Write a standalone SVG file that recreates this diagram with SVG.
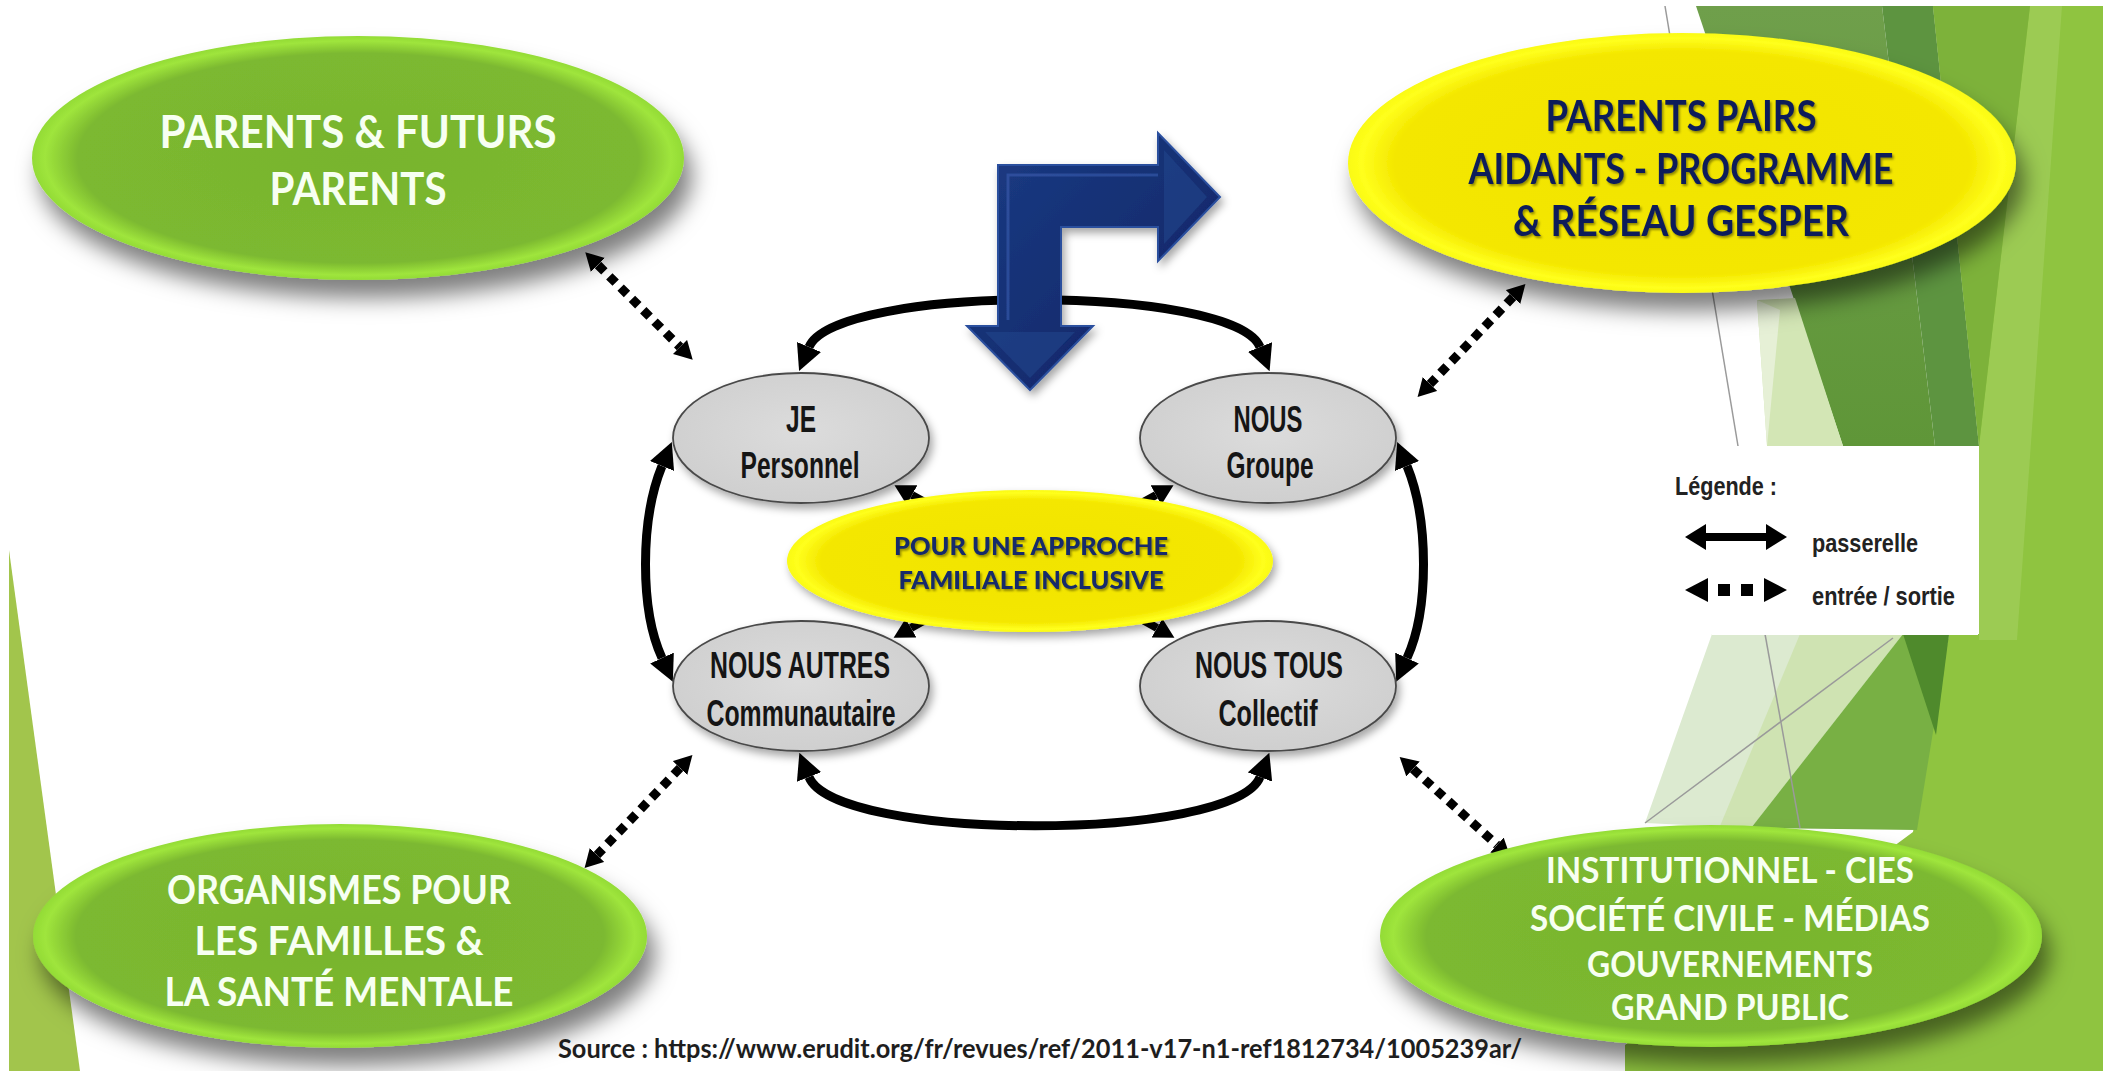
<svg xmlns="http://www.w3.org/2000/svg" width="2103" height="1071" viewBox="0 0 2103 1071">
<defs>
<style>
.big{font-family:Lato,"Liberation Sans",sans-serif;font-weight:700;text-anchor:middle}
.wt{fill:#f7fff2}
.nv{fill:#0e1e5a}
.gt{font-family:"Liberation Sans",Arial,sans-serif;font-weight:700;text-anchor:middle;fill:#151515;font-size:36px}
.ct{font-family:Lato,"Liberation Sans",sans-serif;font-weight:900;text-anchor:middle;fill:#142a6a;font-size:25px}
.lg{font-family:"Liberation Sans",Arial,sans-serif;font-weight:700;fill:#222;font-size:25px}
.ring{fill:none;stroke:#000;stroke-width:9}
.dot{fill:none;stroke:#000;stroke-width:9;stroke-dasharray:9 7}
.short{fill:none;stroke:#000;stroke-width:8}
.gray{fill:url(#gGray);stroke:#4a4a4a;stroke-width:1.8}
.bgl{stroke:#9a9a9a;stroke-width:1.5;fill:none}
</style>
<radialGradient id="gGreen" cx="50%" cy="50%" r="50%">
<stop offset="0" stop-color="#78b42e"/>
<stop offset="0.86" stop-color="#7cb930"/>
<stop offset="0.96" stop-color="#9fe53c"/>
<stop offset="1" stop-color="#93db36"/>
</radialGradient>
<radialGradient id="gYellow" cx="50%" cy="50%" r="50%">
<stop offset="0" stop-color="#f1e400"/>
<stop offset="0.86" stop-color="#f4e700"/>
<stop offset="0.96" stop-color="#ffff1c"/>
<stop offset="1" stop-color="#fafa12"/>
</radialGradient>
<radialGradient id="gGray" cx="50%" cy="45%" r="55%">
<stop offset="0" stop-color="#dcdcdc"/>
<stop offset="1" stop-color="#cfcfcf"/>
</radialGradient>
<linearGradient id="gOlive" x1="0" y1="0" x2="0" y2="1">
<stop offset="0" stop-color="#6f9f4b"/>
<stop offset="1" stop-color="#5f9638"/>
</linearGradient>
<linearGradient id="gBlue" x1="0" y1="0" x2="1" y2="1">
<stop offset="0" stop-color="#1d3c85"/>
<stop offset="1" stop-color="#0b2261"/>
</linearGradient>
<filter id="sh" x="-20%" y="-20%" width="150%" height="180%">
<feDropShadow dx="8" dy="18" stdDeviation="11" flood-color="#000" flood-opacity="0.5"/>
</filter>
<filter id="shs" x="-20%" y="-20%" width="150%" height="170%">
<feDropShadow dx="3" dy="5" stdDeviation="4" flood-color="#000" flood-opacity="0.35"/>
</filter>
<filter id="tsh" x="-5%" y="-20%" width="110%" height="160%">
<feDropShadow dx="1.5" dy="2" stdDeviation="1.2" flood-color="#000" flood-opacity="0.4"/>
</filter>
<marker id="ah" viewBox="0 0 26 26" refX="0" refY="13" markerWidth="26" markerHeight="26" markerUnits="userSpaceOnUse" orient="auto-start-reverse">
<path d="M0,0 L26,13 L0,26 z" fill="#000"/>
</marker>
<marker id="sah" viewBox="0 0 20 22" refX="0" refY="11" markerWidth="20" markerHeight="22" markerUnits="userSpaceOnUse" orient="auto-start-reverse">
<path d="M0,0 L20,11 L0,22 z" fill="#000"/>
</marker>
<marker id="dh" viewBox="0 0 18 20" refX="0" refY="10" markerWidth="18" markerHeight="20" markerUnits="userSpaceOnUse" orient="auto-start-reverse">
<path d="M0,0 L18,10 L0,20 z" fill="#000"/>
</marker>
</defs>

<g id="background">
<rect width="2103" height="1071" fill="#fff"/>
<polygon points="9,550 9,1071 80,1071" fill="#a2c54c"/>
<polygon points="1933,6 2103,6 2103,1071 1625,1071 1625,1045 1913,832 1949,634 1979,634 1979,446" fill="#8fc440"/>
<polygon points="2030,6 2062,6 2017,640 1979,640 1979,446" fill="#a0cd5a" opacity="0.75"/>
<polygon points="1696,6 1882,6 1935,446 1843,446" fill="url(#gOlive)"/>
<polygon points="1882,6 1933,6 1979,446 1935,446" fill="#5d9440"/>
<polygon points="1933,6 2030,6 1979,446" fill="#7db23a"/>
<polygon points="1757,300 1795,298 1843,446 1767,446" fill="#d3e6b5"/>
<polygon points="1757,300 1780,310 1767,446" fill="#e6f0d6"/>
<polygon points="1712,634 1903,634 1751,828 1645,823" fill="#dcead0"/>
<polygon points="1800,634 1903,634 1751,828 1720,826" fill="#cfe3b2"/>
<polygon points="1903,634 1949,634 1917,830 1751,828" fill="#78b044"/>
<polygon points="1903,634 1949,634 1936,735" fill="#4f8a2c"/>
<line class="bgl" x1="1665" y1="6" x2="1738" y2="446"/>
<line class="bgl" x1="1765" y1="634" x2="1800" y2="828"/>
<line class="bgl" x1="1645" y1="823" x2="1893" y2="638"/>
</g>

<g id="legend">
<rect x="1712" y="447" width="266" height="188" fill="#fff"/>
<text class="lg" x="1675" y="495" textLength="102" lengthAdjust="spacingAndGlyphs">Légende :</text>
<line x1="1704" y1="537" x2="1768" y2="537" stroke="#000" stroke-width="8"/>
<polygon points="1685,537 1706,524 1706,550" fill="#000"/>
<polygon points="1787,537 1766,524 1766,550" fill="#000"/>
<text class="lg" x="1812" y="552" textLength="106" lengthAdjust="spacingAndGlyphs">passerelle</text>
<polygon points="1685,590 1708,578 1708,602" fill="#000"/>
<rect x="1718" y="584" width="12" height="12" fill="#000"/>
<rect x="1741" y="584" width="12" height="12" fill="#000"/>
<polygon points="1787,590 1764,578 1764,602" fill="#000"/>
<text class="lg" x="1812" y="605" textLength="143" lengthAdjust="spacingAndGlyphs">entrée / sortie</text>
</g>

<g id="connectors">
<path class="ring" d="M809,347 C835,284 1235,284 1260,347" marker-start="url(#ah)" marker-end="url(#ah)"/>
<path class="ring" d="M809,777 C835,842 1235,842 1260,777" marker-start="url(#ah)" marker-end="url(#ah)"/>
<path class="ring" d="M662,466 C640,520 640,610 662,658" marker-start="url(#ah)" marker-end="url(#ah)"/>
<path class="ring" d="M1407,466 C1429,520 1429,610 1407,658" marker-start="url(#ah)" marker-end="url(#ah)"/>
<line class="short" x1="950" y1="516" x2="912" y2="495" marker-start="url(#sah)" marker-end="url(#sah)"/>
<line class="short" x1="1118" y1="516" x2="1156" y2="495" marker-start="url(#sah)" marker-end="url(#sah)"/>
<line class="short" x1="950" y1="606" x2="911" y2="628" marker-start="url(#sah)" marker-end="url(#sah)"/>
<line class="short" x1="1118" y1="606" x2="1157" y2="628" marker-start="url(#sah)" marker-end="url(#sah)"/>
<line class="dot" x1="598" y1="265" x2="680" y2="347" marker-start="url(#dh)" marker-end="url(#dh)"/>
<line class="dot" x1="680" y1="768" x2="597" y2="855" marker-start="url(#dh)" marker-end="url(#dh)"/>
<line class="dot" x1="1513" y1="297" x2="1430" y2="384" marker-start="url(#dh)" marker-end="url(#dh)"/>
<line class="dot" x1="1413" y1="769" x2="1497" y2="845" marker-start="url(#dh)" marker-end="url(#dh)"/>
</g>

<g id="node-parents">
<ellipse cx="358" cy="158" rx="326" ry="122" fill="url(#gGreen)" filter="url(#sh)"/>
<text class="big wt" font-size="46" x="358" y="148" textLength="397" lengthAdjust="spacingAndGlyphs">PARENTS &amp; FUTURS</text>
<text class="big wt" font-size="46" x="358" y="205" textLength="177" lengthAdjust="spacingAndGlyphs">PARENTS</text>
</g>

<g id="node-pairs">
<ellipse cx="1682" cy="163" rx="334" ry="130" fill="url(#gYellow)" filter="url(#sh)"/>
<g filter="url(#tsh)">
<text class="big nv" font-size="42" x="1681" y="131" textLength="271" lengthAdjust="spacingAndGlyphs">PARENTS PAIRS</text>
<text class="big nv" font-size="42" x="1681" y="184" textLength="425" lengthAdjust="spacingAndGlyphs">AIDANTS - PROGRAMME</text>
<text class="big nv" font-size="42" x="1681" y="236" textLength="336" lengthAdjust="spacingAndGlyphs">&amp; RÉSEAU GESPER</text>
</g>
</g>

<g id="node-organismes">
<ellipse cx="340" cy="936" rx="307" ry="112" fill="url(#gGreen)" filter="url(#sh)"/>
<text class="big wt" font-size="41" x="339" y="904" textLength="344" lengthAdjust="spacingAndGlyphs">ORGANISMES POUR</text>
<text class="big wt" font-size="41" x="339" y="955" textLength="289" lengthAdjust="spacingAndGlyphs">LES FAMILLES &amp;</text>
<text class="big wt" font-size="41" x="339" y="1006" textLength="349" lengthAdjust="spacingAndGlyphs">LA SANTÉ MENTALE</text>
</g>

<g id="node-institutionnel">
<ellipse cx="1711" cy="936" rx="331" ry="111" fill="url(#gGreen)" filter="url(#sh)"/>
<text class="big wt" font-size="37" x="1730" y="883" textLength="368" lengthAdjust="spacingAndGlyphs">INSTITUTIONNEL - CIES</text>
<text class="big wt" font-size="37" x="1730" y="931" textLength="400" lengthAdjust="spacingAndGlyphs">SOCIÉTÉ CIVILE - MÉDIAS</text>
<text class="big wt" font-size="37" x="1730" y="977" textLength="286" lengthAdjust="spacingAndGlyphs">GOUVERNEMENTS</text>
<text class="big wt" font-size="37" x="1730" y="1020" textLength="238" lengthAdjust="spacingAndGlyphs">GRAND PUBLIC</text>
</g>

<g id="node-je">
<ellipse class="gray" cx="801" cy="438" rx="128" ry="65" filter="url(#shs)"/>
<text class="gt" x="801" y="432" textLength="30" lengthAdjust="spacingAndGlyphs">JE</text>
<text class="gt" x="800" y="478" textLength="119" lengthAdjust="spacingAndGlyphs">Personnel</text>
</g>

<g id="node-nous">
<ellipse class="gray" cx="1268" cy="438" rx="128" ry="65" filter="url(#shs)"/>
<text class="gt" x="1268" y="432" textLength="69" lengthAdjust="spacingAndGlyphs">NOUS</text>
<text class="gt" x="1270" y="478" textLength="87" lengthAdjust="spacingAndGlyphs">Groupe</text>
</g>

<g id="node-nous-autres">
<ellipse class="gray" cx="801" cy="686" rx="128" ry="65" filter="url(#shs)"/>
<text class="gt" x="800" y="678" textLength="180" lengthAdjust="spacingAndGlyphs">NOUS AUTRES</text>
<text class="gt" x="801" y="726" textLength="189" lengthAdjust="spacingAndGlyphs">Communautaire</text>
</g>

<g id="node-nous-tous">
<ellipse class="gray" cx="1268" cy="686" rx="128" ry="65" filter="url(#shs)"/>
<text class="gt" x="1269" y="678" textLength="148" lengthAdjust="spacingAndGlyphs">NOUS TOUS</text>
<text class="gt" x="1268" y="726" textLength="99" lengthAdjust="spacingAndGlyphs">Collectif</text>
</g>

<g id="node-center">
<ellipse cx="1030" cy="561" rx="243" ry="71" fill="url(#gYellow)" filter="url(#shs)"/>
<g filter="url(#tsh)">
<text class="ct" x="1031" y="555" textLength="274" lengthAdjust="spacingAndGlyphs">POUR UNE APPROCHE</text>
<text class="ct" x="1031" y="589" textLength="265" lengthAdjust="spacingAndGlyphs">FAMILIALE INCLUSIVE</text>
</g>
</g>

<g id="blue-arrow" filter="url(#shs)">
<polygon points="998,326 967,326 1030,390 1093,326 1061,326 1061,227 1158,227 1158,261 1220,197 1158,133 1158,165 998,165" fill="url(#gBlue)" stroke="#2c4f9e" stroke-width="2" stroke-linejoin="miter"/>
<polyline points="1008,320 1008,175 1158,175" fill="none" stroke="#3a5eaf" stroke-width="3" opacity="0.6"/>
<polygon points="985,332 1075,332 1030,378" fill="#27478f" opacity="0.5"/>
<polygon points="1164,150 1164,244 1207,197" fill="#27478f" opacity="0.5"/>
</g>

<text id="source" x="558" y="1058" font-family="Lato,'Liberation Sans',sans-serif" font-weight="700" font-size="26" fill="#1e1e1e" textLength="964" lengthAdjust="spacingAndGlyphs">Source : https://www.erudit.org/fr/revues/ref/2011-v17-n1-ref1812734/1005239ar/</text>
</svg>
